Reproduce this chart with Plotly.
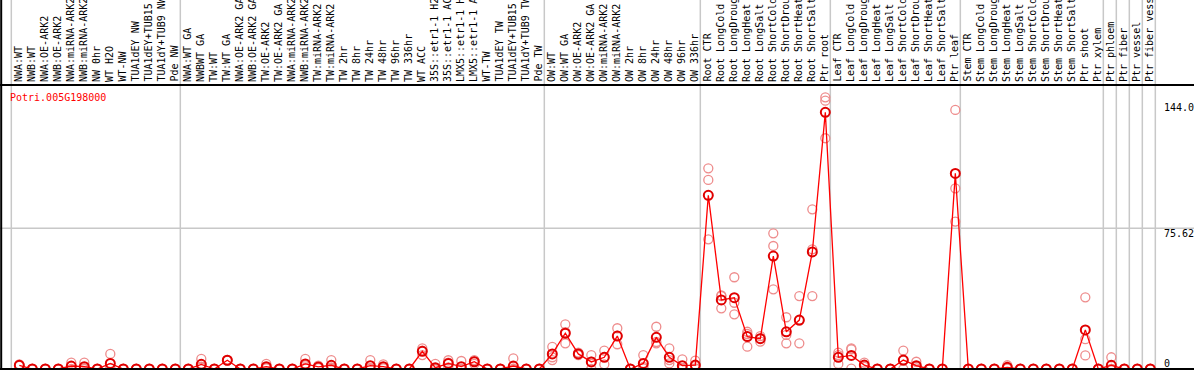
import plotly.graph_objects as go

title = "Potri.005G198000"

categories = [
    "NWA:WT", "NWB:WT", "NWA:OE-ARK2", "NWB:OE-ARK2", "NWA:miRNA-ARK2", "NWB:miRNA-ARK2",
    "NW 0hr", "WT H2O", "WT-NW", "TUA1dEY NW", "TUA1dEY+TUB15 NW", "TUA1dY+TUB9 NW", "Pde NW",
    "NWA:WT GA", "NWBWT GA", "TW:WT", "TW:WT GA", "NWA:OE-ARK2 GA", "NWB:OE-ARK2 GA",
    "TW:OE-ARK2", "TW:OE-ARK2 GA", "NWA:miRNA-ARK2", "NWB:miRNA-ARK2", "TW:miRNA-ARK2",
    "TW:miRNA-ARK2", "TW 2hr", "TW 8hr", "TW 24hr", "TW 48hr", "TW 96hr", "TW 336hr",
    "WT ACC", "35S::etr1-1 H2O", "35S::etr1-1 ACC", "LMX5::etr1-1 H2O", "LMX5::etr1-1 ACC",
    "WT-TW", "TUA1dEY TW", "TUA1dEY+TUB15 TW", "TUA1dY+TUB9 TW", "Pde TW",
    "OW:WT", "OW:WT GA", "OW:OE-ARK2", "OW:OE-ARK2 GA", "OW:miRNA-ARK2", "OW:miRNA-ARK2",
    "OW 2hr", "OW 8hr", "OW 24hr", "OW 48hr", "OW 96hr", "OW 336hr",
    "Root CTR", "Root LongCold", "Root LongDrought", "Root LongHeat", "Root LongSalt",
    "Root ShortCold", "Root ShortDrought", "Root ShortHeat", "Root ShortSalt", "Ptr root",
    "Leaf CTR", "Leaf LongCold", "Leaf LongDrought", "Leaf LongHeat", "Leaf LongSalt",
    "Leaf ShortCold", "Leaf ShortDrought", "Leaf ShortHeat", "Leaf ShortSalt", "Ptr leaf",
    "Stem CTR", "Stem LongCold", "Stem LongDrought", "Stem LongHeat", "Stem LongSalt",
    "Stem ShortCold", "Stem ShortDrought", "Stem ShortHeat", "Stem ShortSalt",
    "Ptr shoot", "Ptr xylem", "Ptr phloem", "Ptr fiber", "Ptr vessel", "Ptr fiber vessel",
]

means = [
    2.0, 0, 0, 0, 1.6, 1.25, 0, 3.0, 0, 0, 0, 0, 0,
    0, 2.5, 0, 4.7, 0, 0, 1.25, 0, 0, 2.7, 1.1, 2.0, 0, 0, 1.8, 1.25, 0, 0,
    9.5, 0.7, 3.0, 1.25, 3.9, 0, 0, 1.6, 0, 0,
    8.1, 19.2, 8.1, 3.8, 6.3, 17.7, 0, 3.0, 17.0, 6.3, 1.8, 2.1,
    93.3, 37.1, 38.3, 17.4, 16.3, 60.7, 20.0, 26.3, 62.9, 137.9,
    6.3, 7.3, 2.1, 0, 0, 4.8, 1.8, 0, 0, 105.1,
    0, 0, 0, 0.9, 0, 0, 0, 0, 0, 21.0, 0, 2.0, 0, 0, 0,
]

replicates = [
    (2.5, 1.8, 1.7), (0, 0, 0), (0, 0, 0), (0, 0, 0), (3.4, 1.4, 0), (3.4, 0.3, 0),
    (0, 0, 0), (8.1, 0.5, 0.4), (0, 0, 0), (0, 0, 0), (0, 0, 0), (0, 0, 0), (0, 0, 0),
    (0, 0, 0), (5.4, 1.2, 0.9), (0, 0, 0), (4.9, 4.7, 4.5), (0, 0, 0), (0, 0, 0),
    (2.7, 0.8, 0.3), (0, 0, 0), (0, 0, 0), (5.4, 2.0, 0.7), (1.8, 1.0, 0.5),
    (4.8, 0.8, 0.4), (0, 0, 0), (0, 0, 0), (4.8, 0.4, 0.2), (2.5, 1.0, 0.3), (0, 0, 0),
    (0, 0, 0), (11.1, 9.9, 7.5), (2.7, 0, 0), (4.7, 3.4, 0.9), (4.3, 0, 0), (4.8, 4.2, 2.7),
    (0, 0, 0), (0, 0, 0), (5.7, 0, 0), (0, 0, 0), (0, 0, 0),
    (11.9, 6.3, 4.8), (24.0, 19.8, 13.8), (8.8, 8.1, 7.4), (7.5, 3.9, 0), (9.9, 6.5, 2.5),
    (21.9, 17.9, 13.3), (0, 0, 0), (7.5, 1.1, 0.4), (22.7, 14.5, 13.8), (11.1, 4.8, 3.0),
    (5.2, 0.2, 0), (4.5, 1.5, 0.3),
    (107.8, 101.6, 69.7), (39.2, 39.5, 32.6), (49.3, 35.6, 29.4), (20.0, 18.8, 12.0),
    (17.7, 16.5, 14.7), (72.9, 66.1, 42.8), (27.8, 18.3, 13.8), (39.2, 26.0, 13.8),
    (85.8, 64.3, 39.2), (146.0, 144.2, 124.0),
    (8.8, 7.5, 2.7), (11.1, 10.6, 0.2), (3.4, 1.8, 1.1), (0, 0, 0), (0, 0, 0),
    (9.9, 4.5, 0), (3.9, 1.2, 0.3), (0, 0, 0), (0, 0, 0), (139.2, 97.1, 79.2),
    (0, 0, 0), (0, 0, 0), (0, 0, 0), (2.0, 0.5, 0.2), (0, 0, 0), (0, 0, 0), (0, 0, 0),
    (0, 0, 0), (0, 0, 0), (38.5, 16.0, 7.3), (0, 0, 0), (6.3, 0, 0), (0, 0, 0), (0, 0, 0),
    (0, 0, 0),
]

# index of the last category in each group (group separators)
group_ends = [-1, 12, 40, 52, 62, 72, 83, 84, 85, 86, 87]

y_ticks = [144.0, 75.62, 0]
y_tick_labels = ["144.0", "75.62", "0"]

W, H = 1194, 370
TOP = 85
PH = H - TOP
X0, X1 = -1.485, 90.36
Y0, Y1 = -0.54, 152.6
FONT = "DejaVu Sans Mono"

xs = list(range(len(categories)))
rx, ry = [], []
for i, reps in enumerate(replicates):
    for v in reps:
        rx.append(i)
        ry.append(v)

fig = go.Figure()
fig.add_trace(go.Scatter(
    x=rx, y=ry, mode="markers", cliponaxis=False,
    marker=dict(symbol="circle-open", size=9, color="rgb(238,140,140)",
                line=dict(width=1.3, color="rgb(238,140,140)")),
    hoverinfo="skip", showlegend=False))
fig.add_trace(go.Scatter(
    x=xs, y=means, mode="lines+markers", cliponaxis=False,
    line=dict(color="red", width=1.3),
    marker=dict(symbol="circle-open", size=9, color="#e00000",
                line=dict(width=2, color="#e00000")),
    showlegend=False))


def xpaper(v):
    return (v - X0) / (X1 - X0)


shapes = []
for g in group_ends:
    xp = xpaper(g + 0.385)
    shapes.append(dict(type="line", xref="paper", yref="paper", x0=xp, x1=xp,
                       y0=0, y1=H / PH, layer="below",
                       line=dict(color="rgb(200,200,200)", width=1.5)))
shapes.append(dict(type="line", xref="paper", yref="y", x0=0, x1=1, y0=75.62, y1=75.62,
                   layer="below", line=dict(color="rgb(200,200,200)", width=1.5)))
shapes.append(dict(type="line", xref="paper", yref="paper", x0=0, x1=1, y0=1, y1=1,
                   line=dict(color="black", width=2)))
shapes.append(dict(type="line", xref="paper", yref="y", x0=0, x1=1, y0=0, y1=0,
                   line=dict(color="black", width=2)))
shapes.append(dict(type="line", xref="paper", yref="paper", x0=0.001, x1=0.001,
                   y0=0, y1=H / PH, line=dict(color="black", width=2)))

annotations = [dict(text=title, xref="paper", yref="paper", x=8 / W, y=1 - 12 / PH,
                    xanchor="left", yanchor="middle", showarrow=False,
                    font=dict(family=FONT, size=10, color="red"))]
shifts = [-6, -5, 6]
for v, t, s in zip(y_ticks, y_tick_labels, shifts):
    annotations.append(dict(text=t, xref="paper", yref="y", x=1162 / W, y=v,
                            xanchor="left", yanchor="middle", yshift=s, showarrow=False,
                            font=dict(family=FONT, size=10, color="black")))
for i, c in enumerate(categories):
    annotations.append(dict(text=c, xref="x", yref="paper", x=i - 0.1, y=1 + 2 / PH,
                            xanchor="center", yanchor="bottom", textangle=-90,
                            showarrow=False, borderpad=0,
                            font=dict(family=FONT, size=10, color="black")))

fig.update_layout(
    width=W, height=H,
    margin=dict(l=0, r=0, t=TOP, b=0, pad=0),
    paper_bgcolor="white", plot_bgcolor="white",
    shapes=shapes, annotations=annotations,
    xaxis=dict(range=[X0, X1], visible=False, showgrid=False, zeroline=False),
    yaxis=dict(range=[Y0, Y1], visible=False, showgrid=False, zeroline=False),
)

fig.write_html("out.html", config={"displayModeBar": False},
               post_script="document.body.style.margin='0';document.body.style.overflow='hidden';")
